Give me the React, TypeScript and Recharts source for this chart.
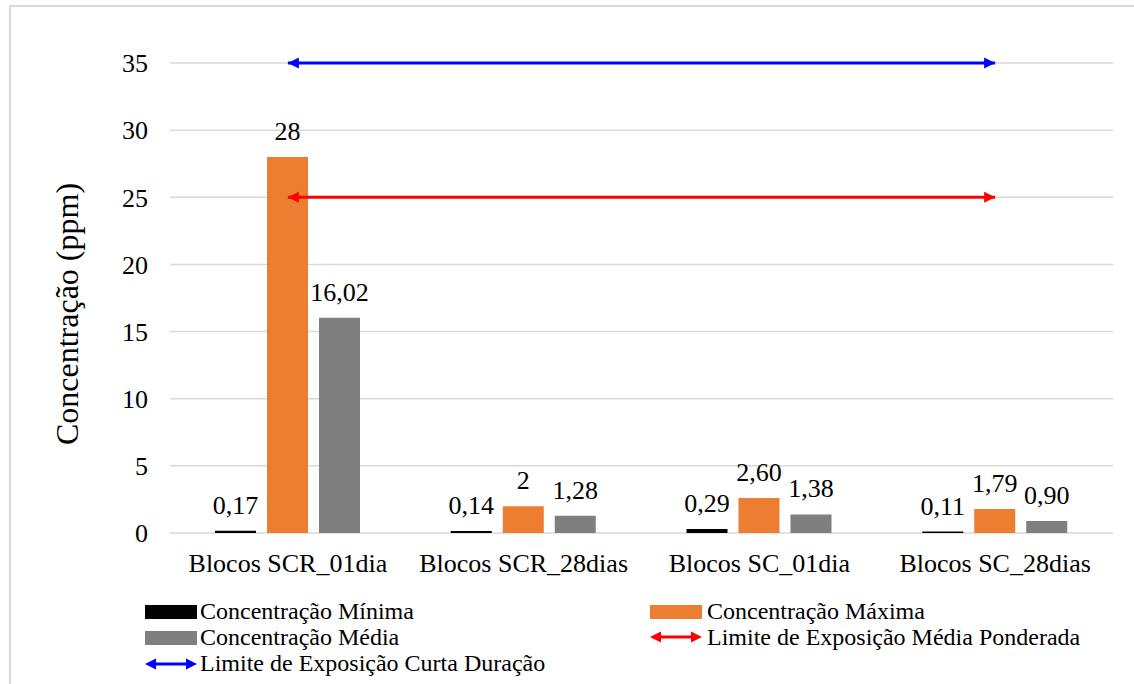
import React from 'react';
import {
  ComposedChart,
  Bar,
  Line,
  XAxis,
  YAxis,
  CartesianGrid,
  LabelList
} from 'recharts';

const categories = ['Blocos SCR_01dia', 'Blocos SCR_28dias', 'Blocos SC_01dia', 'Blocos SC_28dias'];

const minima = [0.17, 0.14, 0.29, 0.11];
const maxima = [28, 2, 2.6, 1.79];
const media = [16.02, 1.28, 1.38, 0.9];

// labels as printed (pt-BR decimal comma)
const minimaLabels = ['0,17', '0,14', '0,29', '0,11'];
const maximaLabels = ['28', '2', '2,60', '1,79'];
const mediaLabels = ['16,02', '1,28', '1,38', '0,90'];

const limiteMediaPonderada = [25, 25, 25, 25];
const limiteCurtaDuracao = [35, 35, 35, 35];

const yTicks = [0, 5, 10, 15, 20, 25, 30, 35];

const FONT = 'Liberation Serif, Tinos, Times New Roman, DejaVu Serif, serif';
const COLORS = {
  minima: '#000000',
  maxima: '#ED7D31',
  media: '#7F7F7F',
  ponderada: '#FF0000',
  curta: '#0000FF',
  grid: '#D9D9D9'
};

const chartData = categories.map((name, i) => ({
  name,
  minima: minima[i],
  maxima: maxima[i],
  media: media[i],
  minimaLabel: minimaLabels[i],
  maximaLabel: maximaLabels[i],
  mediaLabel: mediaLabels[i],
  ponderada: limiteMediaPonderada[i],
  curta: limiteCurtaDuracao[i]
}));

// arrowheads only on the two ends of the limit lines
const ArrowDot = (color: string) => (props: any) => {
  const { cx, cy, index } = props;
  const last = chartData.length - 1;
  if (cx == null || cy == null || (index !== 0 && index !== last)) {
    return <g key={`arrow-${index}`} />;
  }
  const dir = index === 0 ? -1 : 1;
  const len = 11;
  const half = 5.5;
  const pts = `${cx},${cy} ${cx - dir * len},${cy - half} ${cx - dir * len},${cy + half}`;
  return <polygon key={`arrow-${index}`} points={pts} fill={color} />;
};

const AxisTitle = () => (
  <text
    x={78}
    y={314}
    transform="rotate(-90, 78, 314)"
    textAnchor="middle"
    fontSize={32}
    fill="#000"
    style={{ fontFamily: FONT }}
  >
    Concentração (ppm)
  </text>
);

const LegendArrow = ({ x, y, color }: { x: number; y: number; color: string }) => (
  <g>
    <line x1={x + 8} y1={y} x2={x + 44} y2={y} stroke={color} strokeWidth={3} />
    <polygon points={`${x},${y} ${x + 11},${y - 5.5} ${x + 11},${y + 5.5}`} fill={color} />
    <polygon points={`${x + 52},${y} ${x + 41},${y - 5.5} ${x + 41},${y + 5.5}`} fill={color} />
  </g>
);

const legendText = (x: number, y: number, text: string) => (
  <text x={x} y={y} fontSize={24} fill="#000" style={{ fontFamily: FONT }}>
    {text}
  </text>
);

const ChartLegend = () => (
  <svg width={1134} height={684} style={{ position: 'absolute', left: 0, top: 0, pointerEvents: 'none' }}>
    <rect x={145} y={605} width={52} height={14} fill={COLORS.minima} />
    {legendText(200, 619, 'Concentração Mínima')}
    <rect x={145} y={631} width={52} height={14} fill={COLORS.media} />
    {legendText(200, 645, 'Concentração Média')}
    <LegendArrow x={145} y={664} color={COLORS.curta} />
    {legendText(200, 671, 'Limite de Exposição Curta Duração')}

    <rect x={650} y={605} width={52} height={14} fill={COLORS.maxima} />
    {legendText(707, 619, 'Concentração Máxima')}
    <LegendArrow x={650} y={637} color={COLORS.ponderada} />
    {legendText(707, 645, 'Limite de Exposição Média Ponderada')}
  </svg>
);

const labelStyle = { fontSize: 26, fontFamily: FONT, fill: '#000' };
const tickStyle = { fontSize: 26, fontFamily: FONT, fill: '#000' };

export default function App() {
  return (
    <div
      style={{
        position: 'absolute',
        left: 0,
        top: 0,
        width: 1134,
        height: 684,
        overflow: 'hidden',
        background: '#fff',
        fontFamily: FONT
      }}
    >
      <div
        style={{
          position: 'absolute',
          left: 9,
          top: 5,
          width: 1140,
          height: 700,
          border: '2px solid #D9D9D9'
        }}
      />
      <div style={{ position: 'absolute', left: 0, top: 0 }}>
        <ComposedChart
          width={1134}
          height={684}
          data={chartData}
          margin={{ top: 63, right: 21, bottom: 111, left: 70 }}
          barSize={41}
          barGap={11}
          style={{ fontFamily: FONT }}
        >
          <CartesianGrid vertical={false} stroke={COLORS.grid} strokeWidth={1.5} />
          <XAxis
            dataKey="name"
            height={40}
            axisLine={false}
            tickLine={false}
            tickMargin={15}
            interval={0}
            tick={tickStyle}
          />
          <YAxis
            width={100}
            domain={[0, 35]}
            ticks={yTicks}
            axisLine={false}
            tickLine={false}
            tickMargin={16}
            tick={tickStyle}
            label={<AxisTitle />}
          />
          <Bar dataKey="minima" fill={COLORS.minima} isAnimationActive={false}>
            <LabelList dataKey="minimaLabel" position="top" offset={17} style={labelStyle} />
          </Bar>
          <Bar dataKey="maxima" fill={COLORS.maxima} isAnimationActive={false}>
            <LabelList dataKey="maximaLabel" position="top" offset={17} style={labelStyle} />
          </Bar>
          <Bar dataKey="media" fill={COLORS.media} isAnimationActive={false}>
            <LabelList dataKey="mediaLabel" position="top" offset={17} style={labelStyle} />
          </Bar>
          <Line
            dataKey="ponderada"
            stroke={COLORS.ponderada}
            strokeWidth={3}
            dot={ArrowDot(COLORS.ponderada)}
            activeDot={false}
            isAnimationActive={false}
          />
          <Line
            dataKey="curta"
            stroke={COLORS.curta}
            strokeWidth={3}
            dot={ArrowDot(COLORS.curta)}
            activeDot={false}
            isAnimationActive={false}
          />
        </ComposedChart>
      </div>
      <ChartLegend />
    </div>
  );
}
